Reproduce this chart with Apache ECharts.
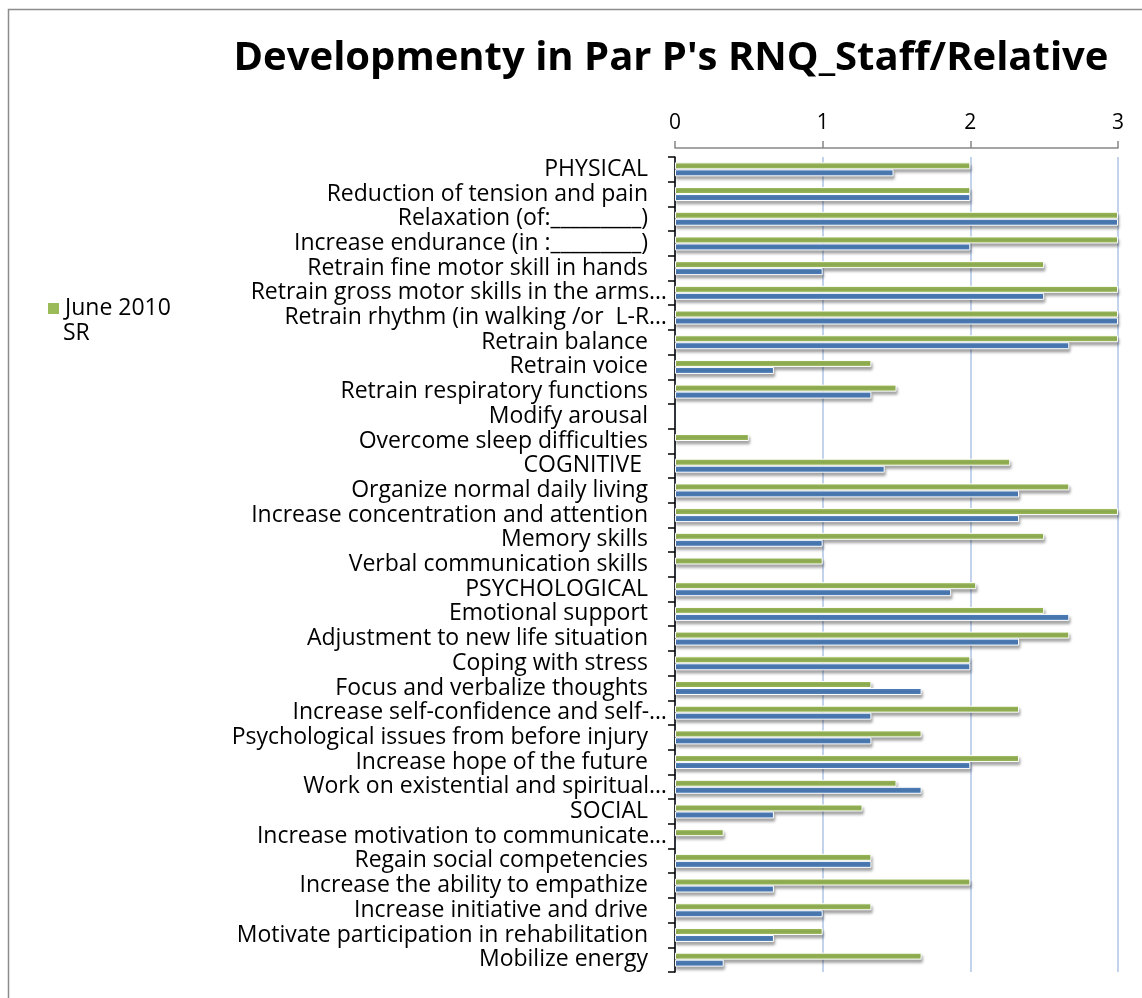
<!DOCTYPE html>
<html>
<head>
<meta charset="utf-8">
<title>Developmenty in Par P's RNQ_Staff/Relative</title>
<script src="https://cdn.jsdelivr.net/npm/echarts@6/dist/echarts.min.js"></script>
<style>
  html, body { margin: 0; padding: 0; background: #fff; }
  #chart { width: 1142px; height: 998px; }
</style>
</head>
<body>
<div id="chart"></div>
<script>
const categories = [
  "PHYSICAL",
  "Reduction of tension and pain",
  "Relaxation (of:_________)",
  "Increase endurance (in :_________)",
  "Retrain fine motor skill in hands",
  "Retrain gross motor skills in the arms…",
  "Retrain rhythm (in walking /or  L-R…",
  "Retrain balance",
  "Retrain voice",
  "Retrain respiratory functions",
  "Modify arousal",
  "Overcome sleep difficulties",
  "COGNITIVE ",
  "Organize normal daily living",
  "Increase concentration and attention",
  "Memory skills",
  "Verbal communication skills",
  "PSYCHOLOGICAL",
  "Emotional support",
  "Adjustment to new life situation",
  "Coping with stress",
  "Focus and verbalize thoughts",
  "Increase self-confidence and self-…",
  "Psychological issues from before injury",
  "Increase hope of the future",
  "Work on existential and spiritual…",
  "SOCIAL",
  "Increase motivation to communicate…",
  "Regain social competencies",
  "Increase the ability to empathize",
  "Increase initiative and drive",
  "Motivate participation in rehabilitation",
  "Mobilize energy"
];

// green series (June 2010 SR)
const june2010 = [
  2, 2, 3, 3, 2.5, 3, 3, 3, 1.33, 1.5, null, 0.5,
  2.27, 2.67, 3, 2.5, 1,
  2.04, 2.5, 2.67, 2, 1.33, 2.33, 1.67, 2.33, 1.5,
  1.27, 0.33, 1.33, 2, 1.33, 1, 1.67
];

// blue series (earlier rating, not in the visible legend)
const earlier = [
  1.48, 2, 3, 2, 1, 2.5, 3, 2.67, 0.67, 1.33, null, null,
  1.42, 2.33, 2.33, 1, null,
  1.87, 2.67, 2.33, 2, 1.67, 1.33, 1.33, 2, 1.67,
  0.67, null, 1.33, 0.67, 1, 0.67, 0.33
];

const xTicks = [0, 1, 2, 3];

const font = "'Open Sans', Lato, sans-serif";

const chart = echarts.init(document.getElementById("chart"));

const barStyle = (color) => ({
  color: color,
  borderColor: "#ffffff",
  borderWidth: 1,
  shadowColor: "rgba(0,0,0,0.35)",
  shadowBlur: 3,
  shadowOffsetX: 1,
  shadowOffsetY: 3
});

const option = {
  backgroundColor: "#ffffff",
  animation: false,
  textStyle: { fontFamily: font },
  title: {
    text: "Developmenty in Par P's RNQ_Staff/Relative",
    left: 666,
    textAlign: "center",
    top: 34,
    textStyle: { fontFamily: font, fontWeight: "bold", fontSize: 40, color: "#000" }
  },
  legend: {
    data: ["June 2010 SR"],
    left: 41,
    top: 292,
    icon: "rect",
    itemWidth: 13,
    itemHeight: 13,
    itemGap: 6,
    formatter: () => "June 2010",
    textStyle: { fontFamily: font, fontSize: 23, color: "#000" }
  },
  graphic: [
    {
      type: "rect",
      left: 6,
      top: 7,
      shape: { width: 1150, height: 1010 },
      style: { fill: "none", stroke: "#8c8c8c", lineWidth: 1.5 },
      silent: true
    },
    {
      type: "text",
      left: 63,
      top: 322,
      style: { text: "SR", fontFamily: font, fontSize: 23, fill: "#000" }
    }
  ],
  grid: { left: 675, right: 24, top: 157, bottom: 26 },
  xAxis: {
    type: "value",
    position: "top",
    offset: 9,
    min: 0,
    max: 3,
    interval: 1,
    axisLine: { show: true, lineStyle: { color: "#868686", width: 1.5 } },
    axisTick: { show: true, length: 7, lineStyle: { color: "#868686", width: 1.5 } },
    axisLabel: {
      margin: 14,
      fontSize: 21,
      color: "#000",
      fontFamily: font,
      formatter: (v) => (xTicks.includes(v) ? String(v) : "")
    },
    splitLine: { show: true, lineStyle: { color: "#c3d3ec", width: 2 } }
  },
  yAxis: {
    type: "category",
    data: categories,
    inverse: true,
    axisLine: { show: true, lineStyle: { color: "#000", width: 1.5 } },
    axisTick: { show: true, length: 7, interval: 0, lineStyle: { color: "#000", width: 1.5 } },
    axisLabel: {
      interval: 0,
      margin: 8,
      fontSize: 23,
      color: "#000",
      fontFamily: font,
      formatter: (v) => (v.endsWith("…") ? "{t|" + v + "}" : "{n|" + v + "}"),
      rich: {
        t: { fontSize: 23, fontFamily: font, color: "#000" },
        n: { fontSize: 23, fontFamily: font, color: "#000", padding: [0, 19, 0, 0] }
      }
    }
  },
  series: [
    {
      name: "June 2010 SR",
      type: "bar",
      data: june2010,
      barWidth: 7,
      barGap: "0%",
      itemStyle: barStyle("#9bbb59")
    },
    {
      name: "Earlier",
      type: "bar",
      data: earlier,
      barWidth: 7,
      barGap: "0%",
      itemStyle: barStyle("#4f81bd")
    }
  ]
};

chart.setOption(option);
</script>
</body>
</html>
